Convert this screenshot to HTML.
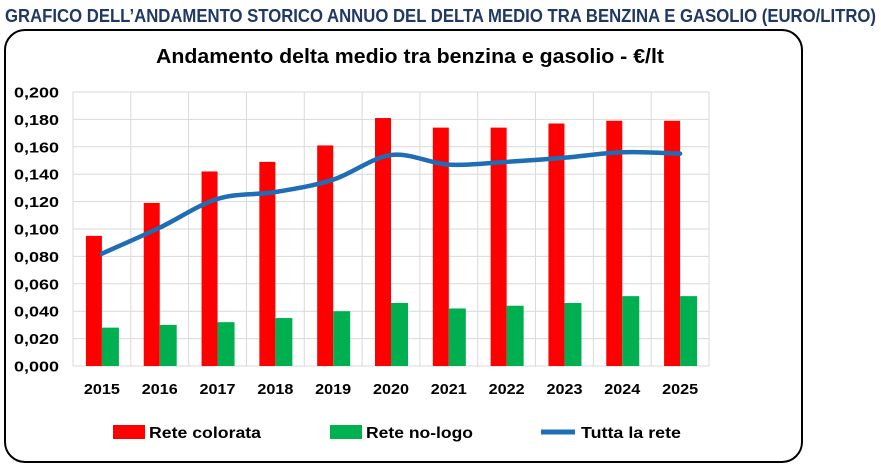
<!DOCTYPE html>
<html><head><meta charset="utf-8"><style>
html,body{margin:0;padding:0;background:#fff;width:881px;height:466px;overflow:hidden}
text{font-family:"Liberation Sans",sans-serif;font-weight:bold}
</style></head><body>
<svg id="s" width="881" height="466" xmlns="http://www.w3.org/2000/svg">
<text x="5" y="22" font-size="18" fill="#1f3864" textLength="871" lengthAdjust="spacingAndGlyphs">GRAFICO DELL’ANDAMENTO STORICO ANNUO DEL DELTA MEDIO TRA BENZINA E GASOLIO (EURO/LITRO)</text>
<rect x="5" y="30" width="797" height="432" rx="20" ry="20" fill="#fff" stroke="#000" stroke-width="2"/>
<text x="410" y="63" font-size="20" text-anchor="middle" fill="#000" textLength="508" lengthAdjust="spacingAndGlyphs">Andamento delta medio tra benzina e gasolio - €/lt</text>
<g id="g"></g>
<g font-size="16" fill="#000">
<rect x="113" y="425" width="32" height="14" fill="#ff0000"/><text x="149" y="438" textLength="112" lengthAdjust="spacingAndGlyphs">Rete colorata</text>
<rect x="330" y="425" width="32" height="14" fill="#00b050"/><text x="366" y="438" textLength="107" lengthAdjust="spacingAndGlyphs">Rete no-logo</text>
<line x1="541" y1="432" x2="575" y2="432" stroke="#1f6db5" stroke-width="5"/><text x="581" y="438" textLength="100" lengthAdjust="spacingAndGlyphs">Tutta la rete</text>
</g>
</svg>
<script>
var g=document.getElementById('g'),h='';
var L=73,R=709,T=92,B=366,cw=(R-L)/11;
function y(v){return B-v*1370;}
for(var i=0;i<=10;i++){var yy=B-i*27.4;h+='<line x1="'+L+'" x2="'+R+'" y1="'+yy+'" y2="'+yy+'" stroke="#d9d9d9" stroke-width="1"/>';
h+='<text x="59" y="'+(yy+5.5)+'" font-size="15" text-anchor="end" textLength="45" lengthAdjust="spacingAndGlyphs">0,'+('00'+(i*20)).slice(-3)+'</text>';}
for(var i=0;i<=11;i++){var xx=L+i*cw;h+='<line y1="'+T+'" y2="'+B+'" x1="'+xx+'" x2="'+xx+'" stroke="#d9d9d9" stroke-width="1"/>';}
var red=[.095,.119,.142,.149,.161,.181,.174,.174,.177,.179,.179];
var gr=[.028,.030,.032,.035,.040,.046,.042,.044,.046,.051,.051];
var ln=[.082,.101,.122,.127,.136,.154,.147,.149,.152,.156,.155];
var pts=[];
for(var i=0;i<11;i++){var c=L+cw*(i+.5);
h+='<rect x="'+(c-16)+'" y="'+y(red[i])+'" width="16" height="'+(B-y(red[i]))+'" fill="#ff0000"/>';
h+='<rect x="'+c+'" y="'+y(gr[i])+'" width="17" height="'+(B-y(gr[i]))+'" fill="#00b050"/>';
h+='<text x="'+c+'" y="394" font-size="15" text-anchor="middle" textLength="36" lengthAdjust="spacingAndGlyphs">'+(2015+i)+'</text>';
pts.push([c,y(ln[i])]);}
var d='M'+pts[0][0]+','+pts[0][1];
for(var i=0;i<10;i++){var p0=pts[Math.max(i-1,0)],p1=pts[i],p2=pts[i+1],p3=pts[Math.min(i+2,10)];
var t=6;d+=' C'+(p1[0]+(p2[0]-p0[0])/t)+','+(p1[1]+(p2[1]-p0[1])/t)+' '+(p2[0]-(p3[0]-p1[0])/t)+','+(p2[1]-(p3[1]-p1[1])/t)+' '+p2[0]+','+p2[1];}
h+='<path d="'+d+'" fill="none" stroke="#1f6db5" stroke-width="4.5" stroke-linecap="round"/>';
g.innerHTML=h;
</script>
</body></html>
